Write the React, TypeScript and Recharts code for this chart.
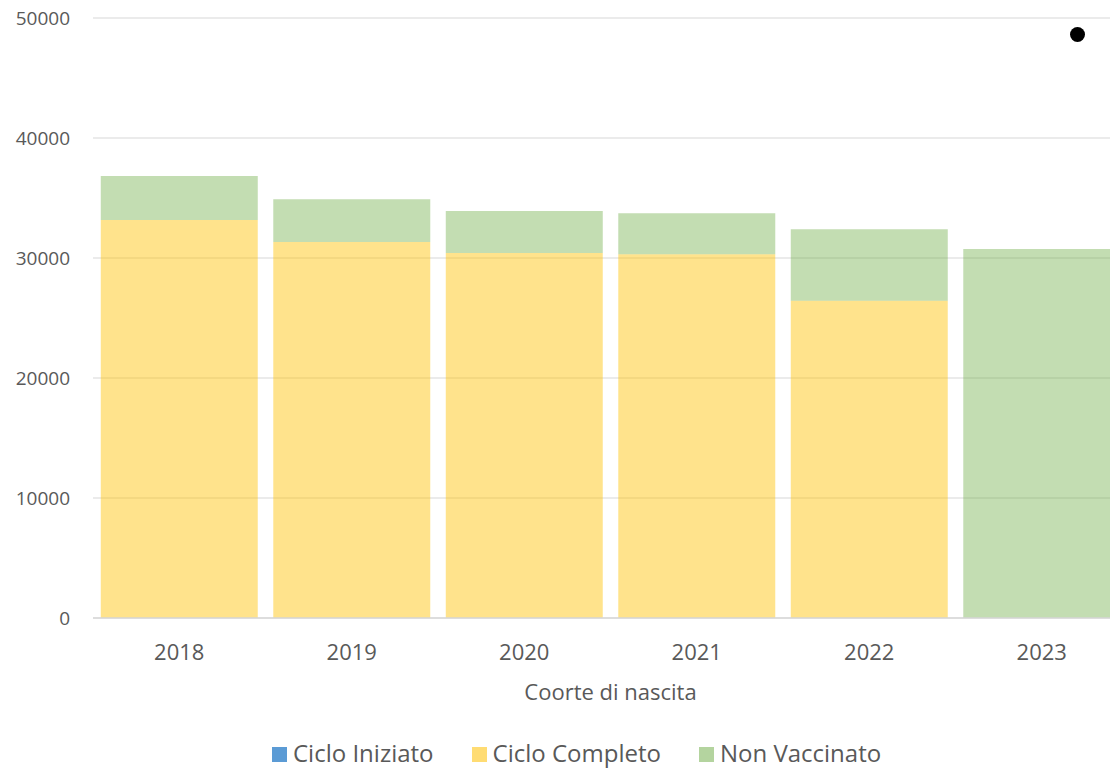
import { BarChart, Bar, XAxis, YAxis, CartesianGrid } from "recharts";

const years = ["2018", "2019", "2020", "2021", "2022", "2023"];
const cicloIniziato = [0, 0, 0, 0, 0, 0];
const cicloCompleto = [33170, 31330, 30420, 30310, 26440, 0];
const nonVaccinato = [3660, 3560, 3500, 3420, 5950, 30750];
const yTicks = [0, 10000, 20000, 30000, 40000, 50000];

const series = [
  { key: "iniziato", name: "Ciclo Iniziato", color: "#5B9BD5", opacity: 1 },
  { key: "completo", name: "Ciclo Completo", color: "#FFC000", opacity: 0.45 },
  { key: "non", name: "Non Vaccinato", color: "#70AD47", opacity: 0.42 },
];

const data = years.map((year, i) => ({
  year,
  iniziato: cicloIniziato[i],
  completo: cicloCompleto[i],
  non: nonVaccinato[i],
}));

const font = "'Open Sans', sans-serif";
const grey = "#595959";

export default function App() {
  return (
    <div
      style={{
        position: "absolute",
        left: 0,
        top: 0,
        width: 1110,
        height: 770,
        overflow: "hidden",
        background: "#fff",
        fontFamily: font,
      }}
    >
      <BarChart
        width={1128}
        height={770}
        data={data}
        margin={{ top: 18, right: 0, left: 0, bottom: 70 }}
        barCategoryGap="4.5%"
      >
        <CartesianGrid vertical={false} stroke="#E4E4E4" strokeWidth={1.5} />
        <XAxis
          dataKey="year"
          height={82}
          tickLine={false}
          axisLine={{ stroke: "#D9D9D9", strokeWidth: 1.5 }}
          tick={{ fill: grey, fontSize: 22, fontFamily: font }}
          tickMargin={20}
          label={{
            value: "Coorte di nascita",
            position: "insideBottom",
            offset: 0,
            fill: grey,
            fontSize: 22,
            fontFamily: font,
          }}
        />
        <YAxis
          width={93}
          domain={[0, 50000]}
          ticks={yTicks}
          interval={0}
          tickLine={false}
          axisLine={false}
          tick={{ fill: grey, fontSize: 19, fontFamily: font }}
          tickMargin={17}
        />
        {series.map((s) => (
          <Bar
            key={s.key}
            dataKey={s.key}
            name={s.name}
            stackId="a"
            fill={s.color}
            fillOpacity={s.opacity}
            isAnimationActive={false}
          />
        ))}
      </BarChart>

      <div
        style={{
          position: "absolute",
          left: 272,
          top: 741,
          display: "flex",
          alignItems: "center",
          fontSize: 24,
          color: grey,
          lineHeight: "24px",
          whiteSpace: "nowrap",
        }}
      >
        {series.map((s, i) => (
          <div
            key={s.key}
            style={{ display: "flex", alignItems: "center", marginRight: i < 2 ? 38 : 0 }}
          >
            <span
              style={{
                display: "inline-block",
                width: 15,
                height: 15,
                background: s.color,
                opacity: s.key === "iniziato" ? 1 : s.opacity + 0.1,
                marginRight: 6,
                marginTop: 2,
              }}
            />
            {s.name}
          </div>
        ))}
      </div>

      <div
        style={{
          position: "absolute",
          left: 1070,
          top: 27,
          width: 15,
          height: 15,
          borderRadius: "50%",
          background: "#000",
        }}
      />
    </div>
  );
}
